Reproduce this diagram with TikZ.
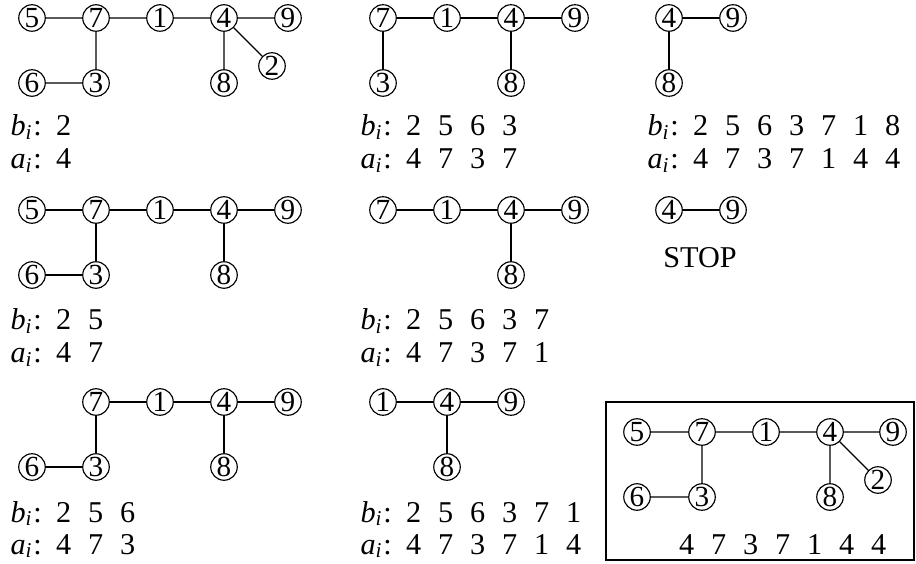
\documentclass[tikz,border=0pt]{standalone}
\usepackage{fontspec}
\setmainfont{Liberation Serif}

\newcommand{\bsub}{\makebox[0.37cm][l]{\textit{b}\textsubscript{\textit{i}}:}}
\newcommand{\asub}{\makebox[0.37cm][l]{\textit{a}\textsubscript{\textit{i}}:}}
\newcommand{\dg}[1]{\makebox[0.32cm]{#1}}

\begin{document}
\begin{tikzpicture}[line width=0.33pt,line cap=round,
  v/.style={circle,draw,inner sep=0pt,minimum size=0.265cm,font=\fontsize{8.3}{9}\selectfont},
  seq/.style={anchor=base west,inner sep=0pt,font=\fontsize{8.6}{10}\selectfont}]
\useasboundingbox (0,0) rectangle (9.16,5.63);
% step 1
\node[v] (a5) at (0.32,5.45) {5};
\node[v] (a7) at (0.96,5.45) {7};
\node[v] (a1) at (1.60,5.45) {1};
\node[v] (a4) at (2.24,5.45) {4};
\node[v] (a9) at (2.88,5.45) {9};
\node[v] (a6) at (0.32,4.80) {6};
\node[v] (a3) at (0.96,4.80) {3};
\node[v] (a8) at (2.24,4.80) {8};
\node[v] (a2) at (2.72,4.97) {2};
\draw (a5) -- (a7) -- (a1) -- (a4) -- (a9) (a7) -- (a3) -- (a6) (a4) -- (a8) (a4) -- (a2);
\node[seq] (ab) at (0.10,4.27) {\bsub\dg2};
\node[seq] (aa) at (0.10,3.94) {\asub\dg4};
% step 2
\node[v] (b7) at (3.83,5.45) {7};
\node[v] (b1) at (4.47,5.45) {1};
\node[v] (b4) at (5.11,5.45) {4};
\node[v] (b9) at (5.75,5.45) {9};
\node[v] (b3) at (3.83,4.80) {3};
\node[v] (b8) at (5.11,4.80) {8};
\draw (b7) -- (b1) -- (b4) -- (b9) (b7) -- (b3) (b4) -- (b8);
\node[seq] (bb) at (3.60,4.27) {\bsub\dg2\dg5\dg6\dg3};
\node[seq] (ba) at (3.60,3.94) {\asub\dg4\dg7\dg3\dg7};
% step 3
\node[v] (c4) at (6.69,5.45) {4};
\node[v] (c9) at (7.33,5.45) {9};
\node[v] (c8) at (6.69,4.80) {8};
\draw (c8) -- (c4) -- (c9);
\node[seq] (cb) at (6.47,4.27) {\bsub\dg2\dg5\dg6\dg3\dg7\dg1\dg8};
\node[seq] (ca) at (6.47,3.94) {\asub\dg4\dg7\dg3\dg7\dg1\dg4\dg4};
% step 4
\node[v] (d5) at (0.32,3.53) {5};
\node[v] (d7) at (0.96,3.53) {7};
\node[v] (d1) at (1.60,3.53) {1};
\node[v] (d4) at (2.24,3.53) {4};
\node[v] (d9) at (2.88,3.53) {9};
\node[v] (d6) at (0.32,2.88) {6};
\node[v] (d3) at (0.96,2.88) {3};
\node[v] (d8) at (2.24,2.88) {8};
\draw (d5) -- (d7) -- (d1) -- (d4) -- (d9) (d7) -- (d3) -- (d6) (d4) -- (d8);
\node[seq] (db) at (0.10,2.33) {\bsub\dg2\dg5};
\node[seq] (da) at (0.10,2.00) {\asub\dg4\dg7};
% step 5
\node[v] (e7) at (3.83,3.53) {7};
\node[v] (e1) at (4.47,3.53) {1};
\node[v] (e4) at (5.11,3.53) {4};
\node[v] (e9) at (5.75,3.53) {9};
\node[v] (e8) at (5.11,2.88) {8};
\draw (e7) -- (e1) -- (e4) -- (e9) (e4) -- (e8);
\node[seq] (eb) at (3.60,2.33) {\bsub\dg2\dg5\dg6\dg3\dg7};
\node[seq] (ea) at (3.60,2.00) {\asub\dg4\dg7\dg3\dg7\dg1};
% last edge
\node[v] (f4) at (6.69,3.53) {4};
\node[v] (f9) at (7.33,3.53) {9};
\draw (f4) -- (f9);
\node[font=\fontsize{8.6}{10}\selectfont] (stop) at (7.00,3.05) {STOP};
% step 6
\node[v] (g7) at (0.96,1.61) {7};
\node[v] (g1) at (1.60,1.61) {1};
\node[v] (g4) at (2.24,1.61) {4};
\node[v] (g9) at (2.88,1.61) {9};
\node[v] (g6) at (0.32,0.96) {6};
\node[v] (g3) at (0.96,0.96) {3};
\node[v] (g8) at (2.24,0.96) {8};
\draw (g7) -- (g1) -- (g4) -- (g9) (g7) -- (g3) -- (g6) (g4) -- (g8);
\node[seq] (gb) at (0.10,0.41) {\bsub\dg2\dg5\dg6};
\node[seq] (ga) at (0.10,0.09) {\asub\dg4\dg7\dg3};
% step 7
\node[v] (h1) at (3.83,1.61) {1};
\node[v] (h4) at (4.47,1.61) {4};
\node[v] (h9) at (5.11,1.61) {9};
\node[v] (h8) at (4.47,0.96) {8};
\draw (h1) -- (h4) -- (h9) (h4) -- (h8);
\node[seq] (hb) at (3.60,0.41) {\bsub\dg2\dg5\dg6\dg3\dg7\dg1};
\node[seq] (ha) at (3.60,0.09) {\asub\dg4\dg7\dg3\dg7\dg1\dg4};
% the tree and its code
\draw[line width=0.5pt] (6.06,0.03) rectangle (9.14,1.61);
\node[v] (i5) at (6.37,1.31) {5};
\node[v] (i7) at (7.02,1.31) {7};
\node[v] (i1) at (7.66,1.31) {1};
\node[v] (i4) at (8.30,1.31) {4};
\node[v] (i9) at (8.93,1.31) {9};
\node[v] (i6) at (6.37,0.66) {6};
\node[v] (i3) at (7.02,0.66) {3};
\node[v] (i8) at (8.30,0.66) {8};
\node[v] (i2) at (8.78,0.83) {2};
\draw (i5) -- (i7) -- (i1) -- (i4) -- (i9) (i7) -- (i3) -- (i6) (i4) -- (i8) (i4) -- (i2);
\node[seq] (ic) at (6.70,0.09) {\dg4\dg7\dg3\dg7\dg1\dg4\dg4};
\end{tikzpicture}
\end{document}
